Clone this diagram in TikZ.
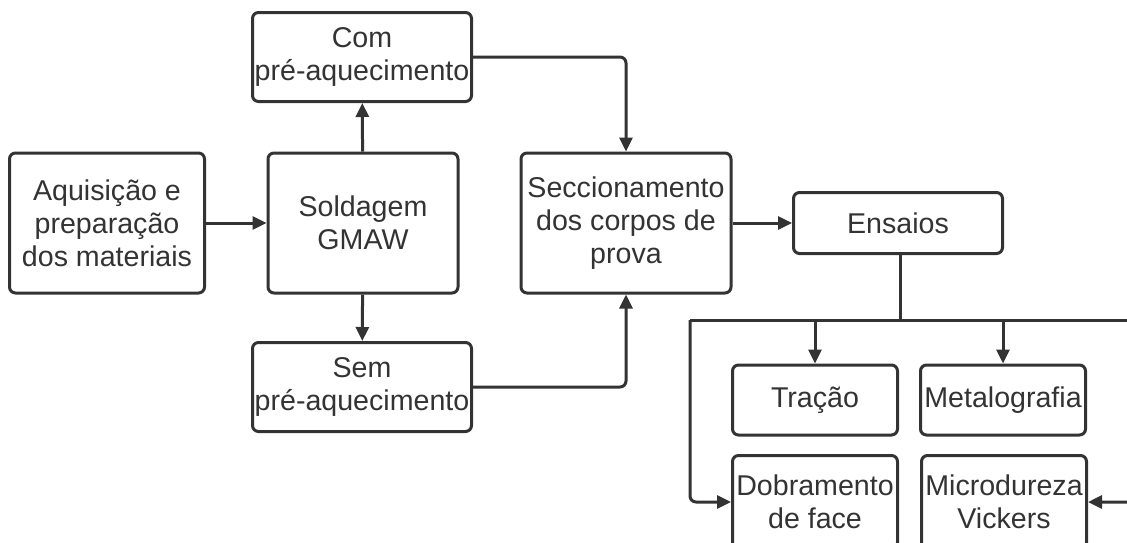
\documentclass[tikz,border=0pt]{standalone}
\usepackage{fontspec}
\setmainfont{Liberation Sans}
\usetikzlibrary{arrows.meta}
\definecolor{ink}{HTML}{333333}
\begin{document}
\begin{tikzpicture}[x=0.5pt,y=-0.5pt,
  box/.style={draw=ink,line width=1.5pt,rounded corners=3pt,fill=white,
    text=ink,align=center,inner sep=0pt,font=\fontsize{14.3}{16.5}\selectfont},
  conn/.style={draw=ink,line width=1.5pt,rounded corners=3pt,
    -{Triangle[length=7pt,width=6.5pt]}},
  line/.style={draw=ink,line width=1.5pt,rounded corners=3pt}]
\clip (0,0) rectangle (1127,542);
\node[box,minimum width=97.5pt,minimum height=70pt] (A) at (107,223) {Aquisição e\\preparação\\dos materiais};
\node[box,minimum width=95pt,minimum height=70pt] (S) at (363,223) {Soldagem\\GMAW};
\node[box,minimum width=109.5pt,minimum height=44.5pt] (C) at (362,57) {Com\\pré-aquecimento};
\node[box,minimum width=109.5pt,minimum height=44.5pt] (N) at (362,387) {Sem\\pré-aquecimento};
\node[box,minimum width=105pt,minimum height=70pt] (X) at (626,223) {Seccionamento\\dos corpos de\\prova};
\node[box,minimum width=104.5pt,minimum height=30.5pt] (E) at (898,223) {Ensaios};
\node[box,minimum width=82.5pt,minimum height=35pt] (T) at (815,400) {Tração};
\node[box,minimum width=82.5pt,minimum height=35pt] (M) at (1003,400) {Metalografia};
\node[box,minimum width=82.5pt,minimum height=46.5pt] (D) at (815,502) {Dobramento\\de face};
\node[box,minimum width=82.5pt,minimum height=46.5pt] (V) at (1004,502) {Microdureza\\Vickers};
\coordinate (J) at (900,320);
\coordinate (L) at (690,320);
\coordinate (R) at (1145,320);
\draw[conn] (A) -- (S);
\draw[conn] (S) -- (C);
\draw[conn] (S) -- (N);
\draw[conn] (C.east) -| (X.north);
\draw[conn] (N.east) -| (X.south);
\draw[conn] (X) -- (E);
\draw[line] (E.south -| J) -- (J);
\draw[line] (L) -- (R);
\draw[conn] (L) |- (D.west);
\draw[conn] (T.north |- J) -- (T.north);
\draw[conn] (M.north |- J) -- (M.north);
\draw[conn] (R) |- (V.east);
\end{tikzpicture}
\end{document}
